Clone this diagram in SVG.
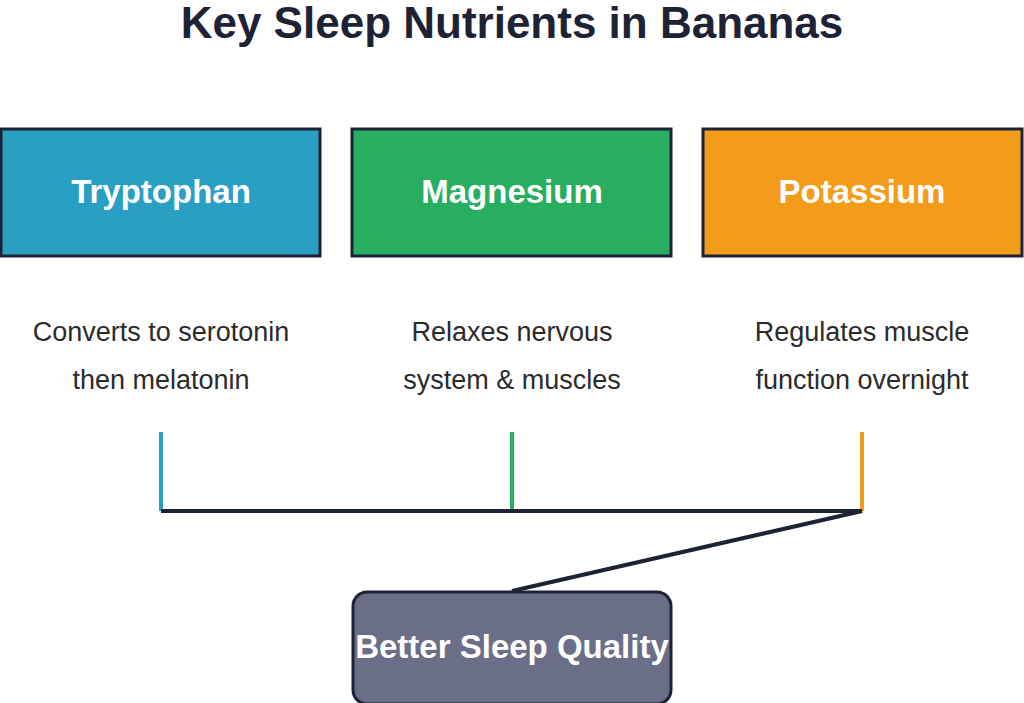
<svg xmlns="http://www.w3.org/2000/svg" width="1024" height="703" viewBox="0 0 1024 703">
<style>
.t{font-family:"Liberation Sans",Arial,sans-serif}
.title{font-size:44px;font-weight:bold;fill:#1e2235}
.lbl{font-size:33px;font-weight:bold;fill:#fff}
.desc{font-size:27px;fill:#2b2b2b}
.box{stroke:#1e2235;stroke-width:3}
</style>
<defs><clipPath id="c"><rect x="353" y="592" width="318" height="112" rx="14"/></clipPath></defs>
<rect width="1024" height="703" fill="#fff"/>
<text class="t title" x="512" y="38" text-anchor="middle">Key Sleep Nutrients in Bananas</text>
<g id="connectors" fill="none" stroke-width="4">
<line x1="161" y1="432" x2="161" y2="511" stroke="#2a9fc4"/>
<line x1="512" y1="432" x2="512" y2="511" stroke="#27ae60"/>
<line x1="862" y1="432" x2="862" y2="511" stroke="#f29c1a"/>
<path d="M161 511 H862 L512 591" stroke="#1e2235"/>
</g>
<g id="tryptophan"><rect class="box" x="1" y="129" width="319" height="127" fill="#2a9fc4"/><text class="t lbl" x="161" y="203" text-anchor="middle">Tryptophan</text>
<text class="t desc" x="161" y="341" text-anchor="middle">Converts to serotonin</text><text class="t desc" x="161" y="389" text-anchor="middle">then melatonin</text></g>
<g id="magnesium"><rect class="box" x="352" y="129" width="319" height="127" fill="#27ae60"/><text class="t lbl" x="512" y="203" text-anchor="middle">Magnesium</text>
<text class="t desc" x="512" y="341" text-anchor="middle">Relaxes nervous</text><text class="t desc" x="512" y="389" text-anchor="middle">system &amp; muscles</text></g>
<g id="potassium"><rect class="box" x="703" y="129" width="319" height="127" fill="#f29c1a"/><text class="t lbl" x="862" y="203" text-anchor="middle">Potassium</text>
<text class="t desc" x="862" y="341" text-anchor="middle">Regulates muscle</text><text class="t desc" x="862" y="389" text-anchor="middle">function overnight</text></g>
<g id="better-sleep"><rect class="box" x="353" y="592" width="318" height="112" rx="14" fill="#6b6e88"/>
<text class="t lbl" x="512" y="658" text-anchor="middle" clip-path="url(#c)" font-size="38">Better Sleep Quality</text></g>
</svg>
